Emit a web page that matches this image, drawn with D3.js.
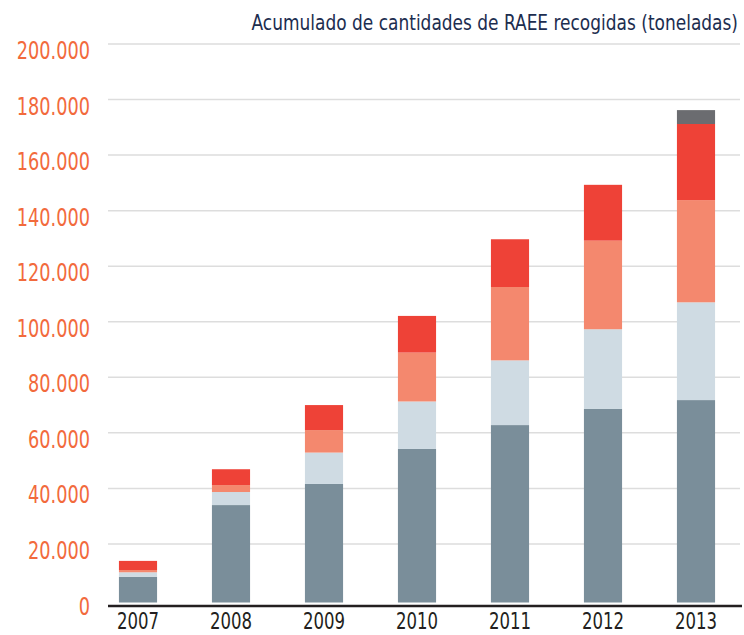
<!DOCTYPE html>
<html>
<head>
<meta charset="utf-8">
<script src="https://cdn.jsdelivr.net/npm/d3@7"></script>
<style>
  body { margin: 0; background: #fff; }
  svg text { font-family: "Liberation Sans Narrow", "DejaVu Sans Condensed", "Roboto", sans-serif; }
</style>
</head>
<body>
<div id="vis"></div>
<script>
const years = ['2007', '2008', '2009', '2010', '2011', '2012', '2013'];
const yTicks = [0, 20000, 40000, 60000, 80000, 100000, 120000, 140000, 160000, 180000, 200000];
const title = 'Acumulado de cantidades de RAEE recogidas (toneladas)';

// stacked pieces, bottom to top (toneladas)
const serieA = [8200, 34000, 41600, 54200, 62800, 68600, 71800];
const serieB = [1600, 4700, 11300, 17100, 23300, 28700, 35200];
const serieC = [800, 2500, 8100, 17600, 26400, 31900, 36800];
const serieD = [3300, 5700, 9000, 13200, 17200, 20100, 27400];
const serieE = [0, 0, 0, 0, 0, 0, 5000];

const keys = ['a', 'b', 'c', 'd', 'e'];
const colors = ['#7a8e9a', '#cfdbe3', '#f4886e', '#ee4237', '#6b6c70'];

const rows = years.map((y, i) => ({
  year: y, a: serieA[i], b: serieB[i], c: serieC[i], d: serieD[i], e: serieE[i]
}));

const width = 744, height = 635;
const svg = d3.select('#vis').append('svg')
  .attr('width', width)
  .attr('height', height);

const x = d3.scaleBand()
  .domain(years)
  .range([91.5, 742.5])
  .paddingInner(0.59)
  .paddingOuter(0.295);

const y = d3.scaleLinear()
  .domain([0, 200000])
  .range([599.5, 44]);

const fmt = (v) => d3.format(',')(v).replace(/,/g, '.');

// narrow the fallback font a bit, the original uses a condensed face
const squeeze = (px, py, s) => `translate(${px},${py}) scale(${s},1)`;

// gridlines
svg.append('g')
  .selectAll('line')
  .data(yTicks.slice(1))
  .join('line')
    .attr('x1', 108)
    .attr('x2', 740)
    .attr('y1', d => y(d))
    .attr('y2', d => y(d))
    .attr('stroke', '#dddddd')
    .attr('stroke-width', 1.5);

// y labels
svg.append('g')
  .selectAll('text')
  .data(yTicks)
  .join('text')
    .attr('transform', d => squeeze(90, y(d) + 15, 0.82))
    .attr('text-anchor', 'end')
    .attr('fill', '#f26a3c')
    .attr('font-size', 24)
    .text(d => fmt(d));

const stack = d3.stack().keys(keys)(rows);

svg.append('g')
  .selectAll('g')
  .data(stack)
  .join('g')
    .attr('fill', (d, i) => colors[i])
  .selectAll('rect')
  .data(d => d)
  .join('rect')
    .attr('x', d => x(d.data.year))
    .attr('width', x.bandwidth())
    .attr('y', d => y(d[1]))
    .attr('height', d => Math.max(0, y(d[0]) - y(d[1]) + (d[0] === 0 ? 3 : 0)));

// baseline
svg.append('line')
  .attr('x1', 108)
  .attr('x2', 742)
  .attr('y1', y(0) + 6.5)
  .attr('y2', y(0) + 6.5)
  .attr('stroke', '#231f20')
  .attr('stroke-width', 2.5);

// x labels
svg.append('g')
  .selectAll('text')
  .data(years)
  .join('text')
    .attr('transform', d => squeeze(x(d) + x.bandwidth() / 2, 629, 0.8))
    .attr('text-anchor', 'middle')
    .attr('fill', '#231f20')
    .attr('font-size', 23)
    .text(d => d);

svg.append('text')
  .attr('transform', squeeze(738, 30, 0.9))
  .attr('text-anchor', 'end')
  .attr('fill', '#1c2d4f')
  .attr('font-size', 21)
  .text(title);
</script>
</body>
</html>
